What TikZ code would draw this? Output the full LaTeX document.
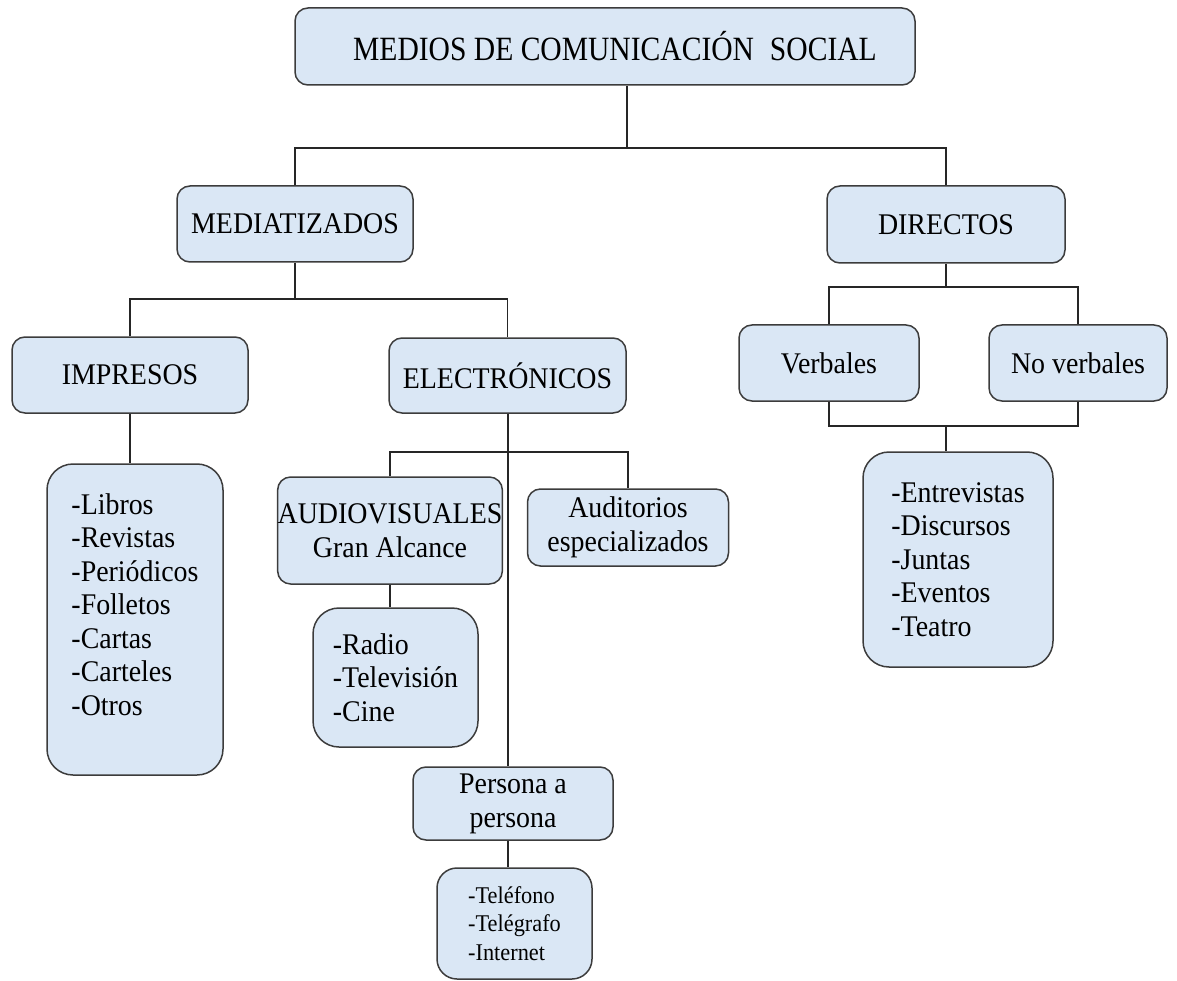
\documentclass[tikz,border=0pt]{standalone}
\usepackage{fontspec}
\setmainfont[FakeStretch=0.93]{Liberation Serif}
\newfontfamily\titulofont[FakeStretch=0.87]{Liberation Serif}
\usetikzlibrary{positioning}
\usetikzlibrary{calc}

\definecolor{boxfill}{RGB}{218,231,245}
\definecolor{boxline}{RGB}{60,60,60}

\tikzset{
  caja/.style={draw=boxline, fill=boxfill, line width=1.5pt, rounded corners=13pt,
    inner sep=0pt, align=center, font=\fontsize{30}{34}\selectfont},
  lista/.style={caja, rounded corners=26pt, align=left, font=\fontsize{30}{33.5}\selectfont},
  rama/.style={draw=black!85, line width=1.5pt}
}

\begin{document}
\begin{tikzpicture}[x=1pt, y=-1pt]

  \useasboundingbox (0,0) rectangle (1177,981);

	\node[caja, minimum width=620, minimum height=77, font=\titulofont\fontsize{34}{38}\selectfont] (medios) at (605,46.5)
	  {\hspace{20pt}MEDIOS DE COMUNICACIÓN\hspace{0.25em} SOCIAL};

	\node[caja, minimum width=236, minimum height=76] (mediat) at (295,224) {MEDIATIZADOS};
	\node[caja, minimum width=238, minimum height=77] (directos) at (946,224.5) {DIRECTOS};

	\node[caja, minimum width=236, minimum height=76] (impresos) at (130,375) {IMPRESOS};
	\node[caja, minimum width=237, minimum height=75] (electro) at (507.5,375.5) {ELECTRÓNICOS};

	\node[lista, minimum width=176, minimum height=311, text depth=30pt] (implist) at (135,619.5)
	  {-Libros\\-Revistas\\-Periódicos\\-Folletos\\-Cartas\\-Carteles\\-Otros};

	\node[caja, minimum width=224, minimum height=107] (audiov) at (390,530.5) {AUDIOVISUALES\\Gran Alcance};
	\node[caja, minimum width=201, minimum height=77] (auditor) at (628,527.5) {Auditorios\\especializados};
	\node[lista, minimum width=165, minimum height=139] (radio) at (395.5,677.5) {-Radio\\-Televisión\\-Cine};

	\node[caja, minimum width=200, minimum height=73] (persona) at (513,803.5) {Persona a\\persona};
	\node[lista, rounded corners=20pt, minimum width=155, minimum height=111,
	      font=\fontsize{24}{28.5}\selectfont] (telef) at (514.5,923.5) {-Teléfono\\-Telégrafo\\-Internet};

	\node[caja, minimum width=180, minimum height=76] (verbales) at (829,363) {Verbales};
	\node[caja, minimum width=178, minimum height=76] (noverb) at (1078,363) {No verbales};
	\node[lista, minimum width=190, minimum height=215] (dirlist) at (958,559.5)
	  {-Entrevistas\\-Discursos\\-Juntas\\-Eventos\\-Teatro};

	\coordinate (j1) at (627,148);
	\coordinate (j2) at (295,299);
	\coordinate (j3) at (508,452);
	\coordinate (j4) at (946,287);
	\coordinate (j5) at (946,426);

	\draw[rama] (medios.south -| j1) -- (j1);
	\draw[rama] (mediat.north) |- (j1) -| (directos.north);

	\draw[rama] (mediat.south) -- (j2);
	\draw[rama] (impresos.north) |- (j2) -| (electro.north);
	\draw[rama] (impresos.south) -- (impresos.south |- implist.north);

	\draw[rama] (electro.south -| j3) -- (persona.north -| j3);
	\draw[rama] (audiov.north) |- (j3) -| (auditor.north);
	\draw[rama] (audiov.south) -- (audiov.south |- radio.north);
	\draw[rama] (persona.south -| j3) -- (telef.north -| j3);

	\draw[rama] (directos.south) -- (j4);
	\draw[rama] (verbales.north) |- (j4) -| (noverb.north);
	\draw[rama] (verbales.south) |- (j5) -| (noverb.south);
	\draw[rama] (j5) -- (dirlist.north -| j5);

\end{tikzpicture}
\end{document}
